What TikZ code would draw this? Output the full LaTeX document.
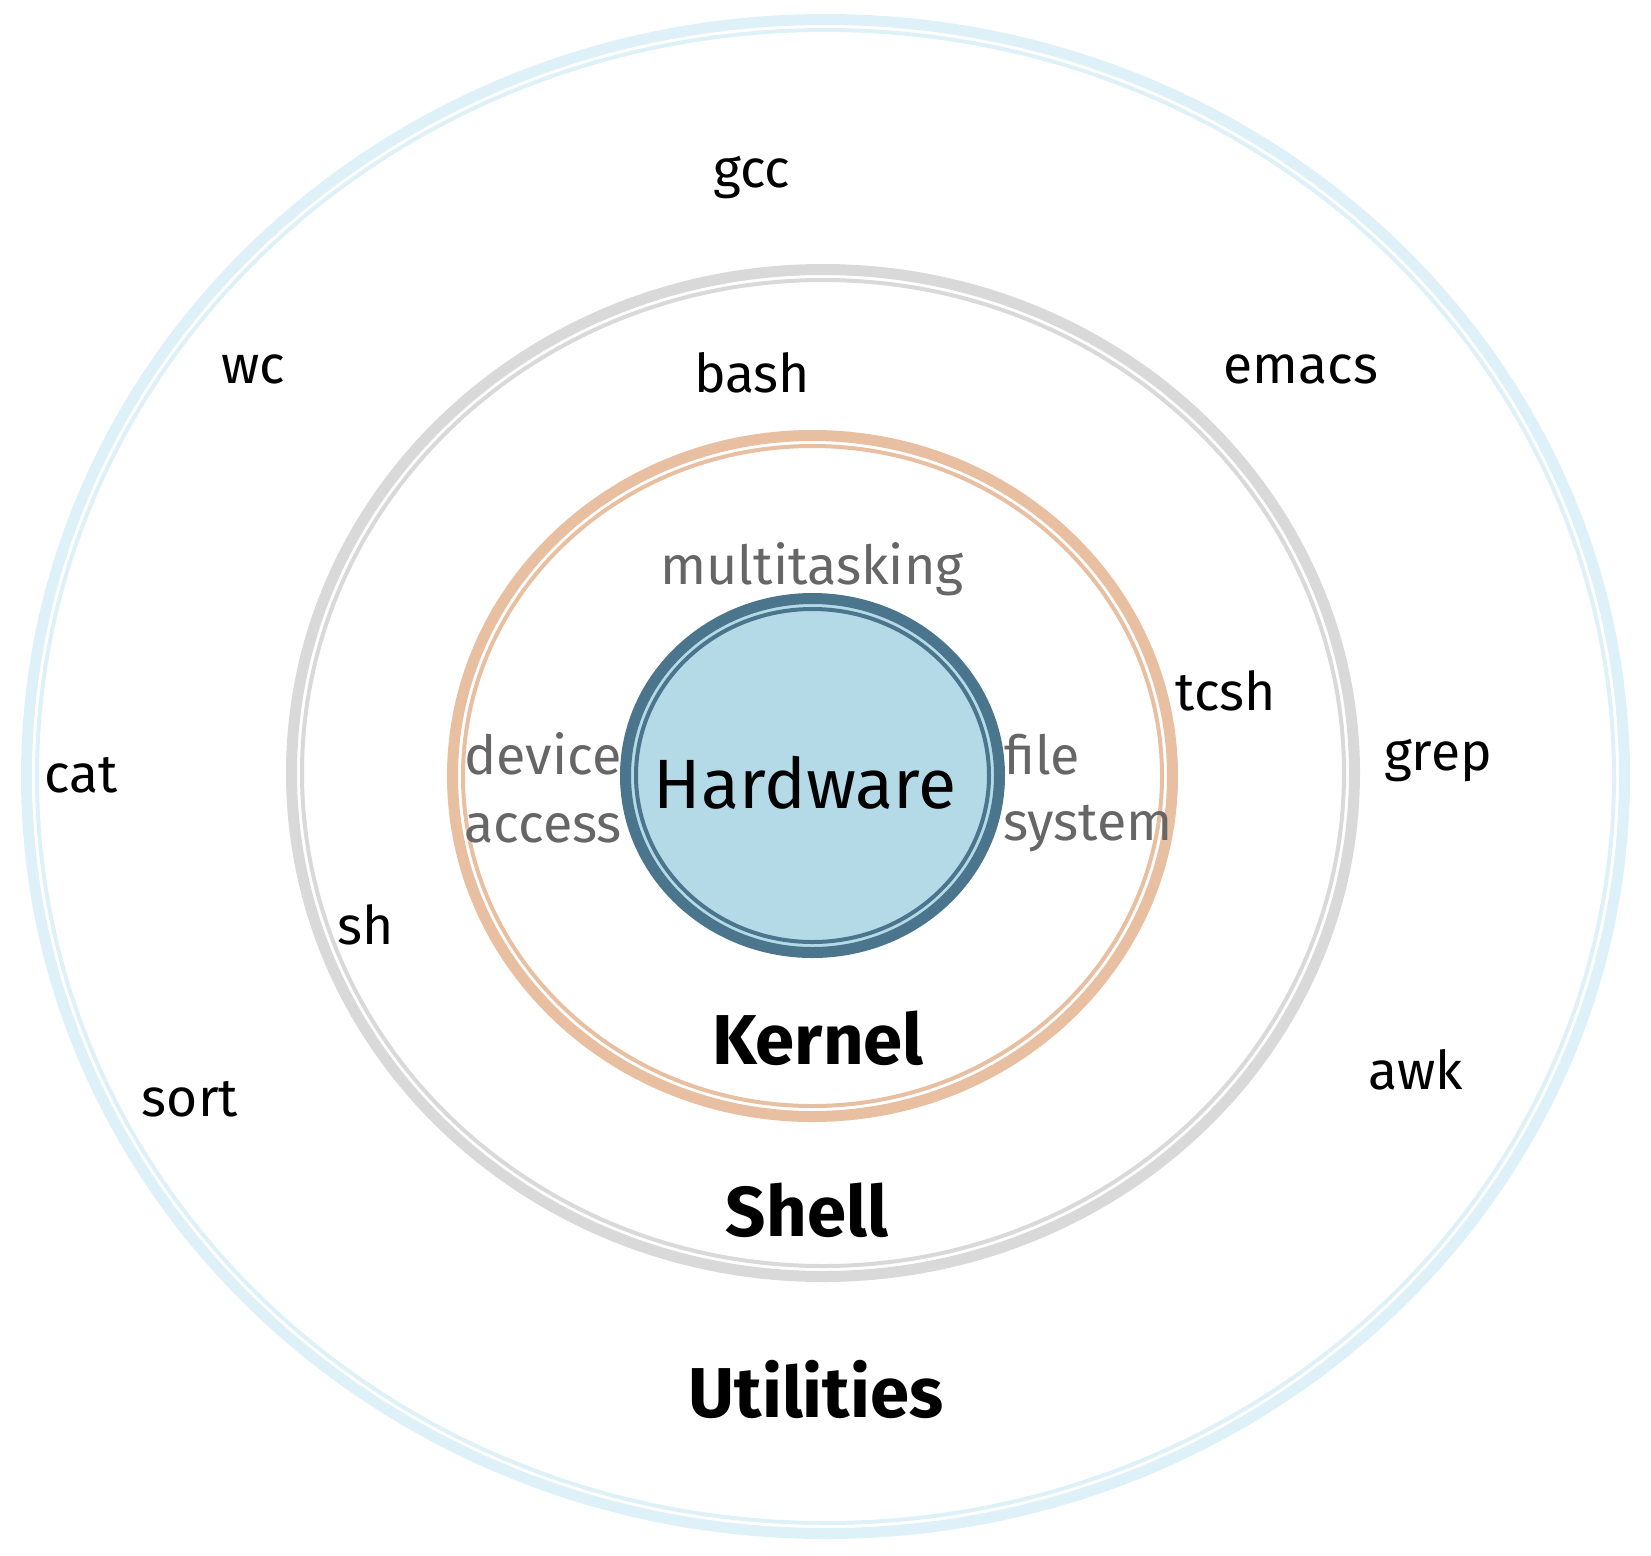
\documentclass[tikz,border=0pt]{standalone}
\usepackage{fontspec}
\setmainfont{Fira Sans}
\definecolor{utilline}{HTML}{DFF1F8}
\definecolor{shellline}{HTML}{D9D9D9}
\definecolor{kernelline}{HTML}{E8BFA1}
\definecolor{hwline}{HTML}{4A758C}
\definecolor{hwfill}{HTML}{B5DAE7}
\definecolor{labelgray}{HTML}{666666}
\tikzset{
  thickring/.style={line width=5.5pt},
  thinring/.style={line width=2pt},
  tool/.style={anchor=base, inner sep=0pt, font=\fontsize{26.7}{32}\selectfont},
  duty/.style={anchor=base west, inner sep=0pt, text=labelgray, font=\fontsize{26.9}{32}\selectfont},
  layer/.style={anchor=base, inner sep=0pt, font=\fontsize{35.3}{42}\selectfont\bfseries},
}
\begin{document}
\begin{tikzpicture}[x=0.5pt, y=-0.5pt]
\useasboundingbox (0,0) rectangle (1651,1555);
% utilities ring
\draw[utilline, thickring] (825.5,776.5) ellipse [x radius=799, y radius=757];
\draw[utilline, thinring] (825.5,776.5) ellipse [x radius=788.5, y radius=746.5];
% shell ring
\draw[shellline, thickring] (823,773) ellipse [x radius=531.5, y radius=503.5];
\draw[shellline, thinring] (823,773) ellipse [x radius=521, y radius=493];
% kernel ring
\draw[kernelline, thickring] (812.5,776) ellipse [x radius=360, y radius=340.5];
\draw[kernelline, thinring] (812.5,776) ellipse [x radius=349.5, y radius=330];
% hardware core
\fill[hwfill] (812.5,775.5) ellipse [x radius=190, y radius=180];
\draw[hwline, thickring] (812.5,775.5) ellipse [x radius=187, y radius=177];
\draw[hwline, thinring] (812.5,775.5) ellipse [x radius=176.5, y radius=166.5];

\node[layer, font=\fontsize{34.9}{42}\selectfont] (hw) at (805,808) {Hardware};
\node[layer] (kernel) at (818,1064) {Kernel};
\node[layer] (shell) at (807,1236) {Shell};
\node[layer] (util) at (816,1417) {Utilities};

\node[duty, anchor=base] (multi) at (812,584) {multitasking};
\node[duty] (dev) at (464,774) {device};
\node[duty] (acc) at (464,842) {access};
\node[duty] (file) at (1004,774) {file};
\node[duty] (sys) at (1003,840) {system};

\node[tool] (gcc) at (752,187) {gcc};
\node[tool] (wc) at (253,383) {wc};
\node[tool] (bash) at (752,392) {bash};
\node[tool] (emacs) at (1301,383) {emacs};
\node[tool] (tcsh) at (1226,710) {tcsh};
\node[tool] (grep) at (1438,770) {grep};
\node[tool] (cat) at (81,792) {cat};
\node[tool] (sh) at (366,944) {sh};
\node[tool] (awk) at (1416,1089) {awk};
\node[tool] (sort) at (190,1116) {sort};
\end{tikzpicture}
\end{document}
